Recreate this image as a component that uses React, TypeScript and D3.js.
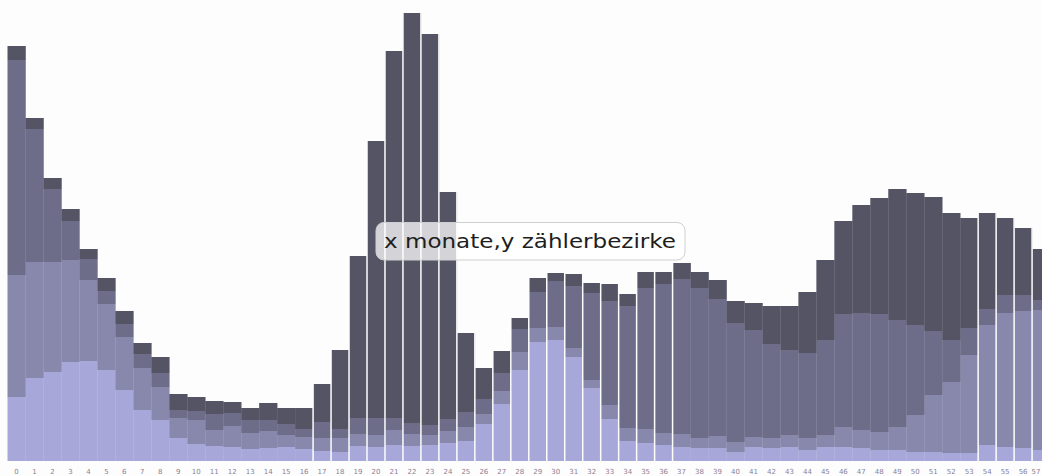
import React from "react";
import * as d3 from "d3";

// x: months (bar labels), y: number of Zählerbezirke, stacked in four groups
const months: string[] = Array.from({ length: 58 }, (_, i) => String(i));

const layer1: number[] = [64, 83, 89, 99, 100, 91, 71, 51, 41, 23, 17, 15, 14, 12, 13, 14, 12, 10, 9, 15, 14, 16, 15, 16, 18, 20, 37, 57, 91, 119, 121, 104, 73, 42, 20, 18, 16, 14, 13, 13, 9, 14, 13, 14, 11, 14, 14, 13, 11, 11, 9, 9, 8, 8, 16, 14, 13, 11];
const layer2: number[] = [122, 116, 110, 102, 81, 66, 53, 42, 33, 20, 24, 16, 21, 16, 17, 12, 12, 13, 14, 12, 12, 15, 12, 10, 12, 14, 10, 13, 18, 14, 13, 9, 8, 14, 13, 14, 12, 13, 10, 12, 10, 10, 10, 12, 12, 12, 20, 18, 18, 23, 37, 57, 71, 98, 120, 134, 137, 140];
const layer3: number[] = [215, 133, 73, 39, 21, 13, 13, 14, 14, 8, 9, 16, 13, 13, 11, 11, 8, 16, 9, 16, 17, 12, 11, 10, 12, 15, 15, 18, 23, 36, 46, 62, 87, 104, 122, 141, 149, 155, 150, 137, 119, 107, 94, 85, 85, 95, 113, 117, 118, 107, 90, 64, 42, 27, 16, 18, 16, 10];
const layer4: number[] = [14, 11, 11, 12, 10, 13, 13, 11, 16, 16, 14, 13, 11, 12, 17, 16, 21, 38, 79, 162, 277, 367, 410, 391, 227, 79, 31, 22, 11, 14, 8, 12, 10, 17, 12, 16, 12, 16, 16, 19, 22, 27, 38, 44, 61, 80, 93, 108, 116, 131, 132, 134, 127, 110, 96, 77, 67, 51];

const layerKeys = ["a", "b", "c", "d"];
const colors = ["#a7a7d9", "#8888ad", "#6d6d89", "#545465"];
const chartLabel = "x monate,y zählerbezirke";

const W = 1042;
const H = 476;
const LEFT = 7.5;
const STEP = 17.975;
const BASE = 461;
const SEPARATED: [number, number][] = [[17, 37], [54, 57]];

export default function App() {
  const rows = months.map((m, i) => ({
    m,
    a: layer1[i],
    b: layer2[i],
    c: layer3[i],
    d: layer4[i],
  }));
  const series = d3.stack<any>().keys(layerKeys)(rows);

  const x = d3
    .scaleBand<string>()
    .domain(months)
    .range([LEFT, LEFT + STEP * months.length])
    .padding(0);
  const y = d3.scaleLinear().domain([0, 450]).range([BASE, BASE - 450]);
  const bw = x.bandwidth();

  const totals = rows.map((r) => r.a + r.b + r.c + r.d);
  const sepIdx: number[] = [];
  SEPARATED.forEach(([s, e]) => {
    for (let i = s; i <= e; i++) sepIdx.push(i);
  });

  return (
    <div
      style={{
        position: "fixed",
        left: 0,
        top: 0,
        width: W,
        height: H,
        overflow: "hidden",
        background: "#fdfdfd",
      }}
    >
      <svg width={W} height={H} style={{ display: "block" }}>
        <rect x={0} y={0} width={W} height={H} fill="#fdfdfd" />
        {series.map((s, li) => (
          <g key={li} fill={colors[li]}>
            {s.map((d, i) => (
              <rect
                key={i}
                x={x(months[i])!}
                y={y(d[1])}
                width={bw + 0.3}
                height={Math.max(0, y(d[0]) - y(d[1]))}
              />
            ))}
          </g>
        ))}
        {sepIdx.map((i) => {
          const h = Math.max(totals[i], i > 0 ? totals[i - 1] : 0);
          return (
            <rect
              key={"s" + i}
              x={x(months[i])! - 0.75}
              y={y(h)}
              width={1.5}
              height={BASE - y(h)}
              fill="#fdfdfd"
            />
          );
        })}
        <g>
          {months.map((m, i) => (
            <text
              key={"t" + i}
              x={Math.min(x(m)! + bw / 2, W - 6)}
              y={BASE + 13}
              fontSize={7}
              fill="#8a7f96"
              textAnchor="middle"
              fontFamily="DejaVu Sans, sans-serif"
            >
              {m}
            </text>
          ))}
        </g>
        <g>
          <rect
            x={376}
            y={222.5}
            width={309}
            height={37.5}
            rx={8}
            fill="rgba(255,255,255,0.75)"
            stroke="#cfcfd2"
            strokeWidth={1}
          />
          <text
            x={384}
            y={248}
            fontSize={20}
            fill="#1e1e1e"
            fontFamily="DejaVu Sans, sans-serif"
            textLength={292}
            lengthAdjust="spacingAndGlyphs"
          >
            {chartLabel}
          </text>
        </g>
      </svg>
    </div>
  );
}
